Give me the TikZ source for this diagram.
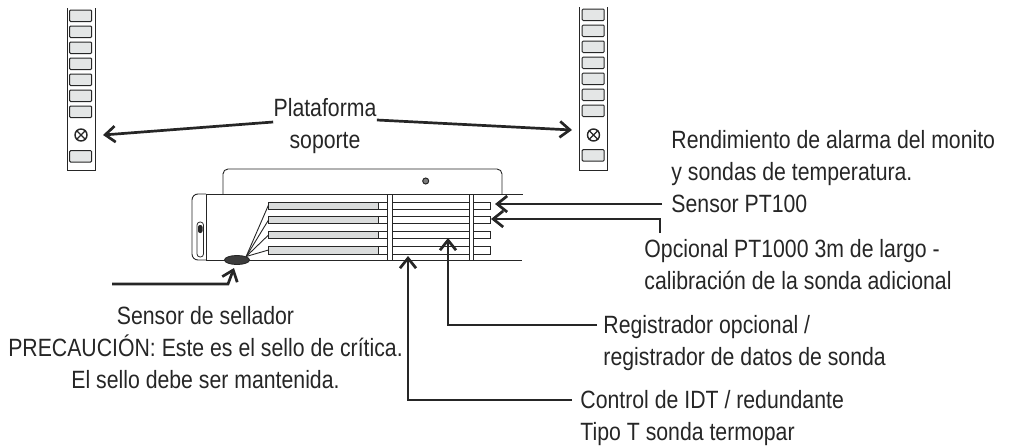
\documentclass[tikz,border=0pt]{standalone}
\usepackage{fontspec}
\setmainfont[FakeStretch=0.85]{Liberation Sans}
\usepackage{tikz}
\usetikzlibrary{arrows.meta,shapes.geometric}
\definecolor{ink}{HTML}{262626}
\definecolor{slotgray}{HTML}{E4E6E6}
\definecolor{bargray}{HTML}{DADCDC}

\begin{document}
\begin{tikzpicture}[x=1pt,y=-1pt,
        line width=0.9pt,draw=ink,
        lbl/.style={inner sep=0pt, text=ink, align=left,
                        font=\fontsize{25}{32}\selectfont},
        lead/.style={draw=ink, line width=2.7pt,
                        -{Straight Barb[length=10pt,width=16pt,line width=2.7pt]}},
        slot/.style={draw=ink, fill=slotgray, line width=1pt, rounded corners=1pt},
        screw/.style={circle, draw=ink, line width=1.4pt,
                        inner sep=0pt, minimum width=12pt},
        probe/.style={draw=ink, line width=0.9pt, fill=white}]
    \useasboundingbox (0,0) rectangle (1019,447);

    % support rails
    \foreach \rx/\ry/\nm in {67/0/screwL, 579.5/-1/screwR}{
        \draw[line width=1pt] (\rx,8+\ry) -- (\rx,170) -- (\rx+28,170) -- (\rx+28,8+\ry);
        \foreach \k in {0,...,6}
            \draw[slot] (\rx+2.7,10+\ry+16*\k) rectangle (\rx+24.7,21.5+\ry+16*\k);
        \draw[slot] (\rx+2.7,150.7+\ry) rectangle (\rx+24.7,162+\ry);
        \node[screw] (\nm) at (\rx+14,135) {};
        \draw[line width=1.2pt] (\nm.north west) -- (\nm.south east)
            (\nm.north east) -- (\nm.south west);
    }

    % chassis
    \draw (223,194) -- (223,173) [rounded corners=5pt] -- (223,169) -- (502,169) -- (502,194);
    \draw[rounded corners=6pt] (206,194) -- (192,194) -- (192,260) -- (206,260);
    \draw (206,194) -- (206,260);
    \draw (206,194) -- (523,194);
    \draw (206,260) -- (522,260);
    \draw[line width=0.8pt,rounded corners=3pt] (197,222) rectangle (203.5,257);
    \fill[ink,rounded corners=2pt] (198,225) rectangle (202.5,233);
    \node[screw, line width=1pt, minimum width=6pt, fill=ink!60] (screwC) at (425.7,181) {};

    % probes
    \foreach \py/\qy in {202/209, 216.7/223.5, 231.3/238.5, 246.5/254}{
        \draw[probe] (378,\py) rectangle (388,\qy);
        \draw[probe] (388,\py) -- (469,\py) (388,\qy) -- (469,\qy);
        \draw[probe] (473,\py) rectangle (490.5,\qy);
        \draw[fill=bargray,line width=1pt] (268.5,\py) rectangle (378,\qy);
    }
    \draw[fill=white] (387.5,194) rectangle (392,260);
    \draw[fill=white] (469.5,194) rectangle (473.5,260);

    % seal sensor and wires
    \node[ellipse, draw=ink, fill=ink!90, inner sep=0pt,
        minimum width=25pt, minimum height=9pt] (seal) at (237,260) {};
    \foreach \wy in {205,220,235,250}
        \draw (seal.north east) -- (268.5,\wy);

    % labels
    \node[lbl, align=center] (lblPlat) at (325,126) {Plataforma\\soporte};
    \node[lbl, anchor=north west] (lblRend) at (671,130) {Rendimiento de alarma del monito\\y sondas de temperatura.};
    \node[lbl, anchor=west] (lblPt) at (671,204) {Sensor PT100};
    \node[lbl, anchor=north west] (lblOpc) at (644,239) {Opcional PT1000 3m de largo -\\calibración de la sonda adicional};
    \node[lbl, anchor=north west] (lblReg) at (603,315) {Registrador opcional /\\registrador de datos de sonda};
    \node[lbl, anchor=north west] (lblCtl) at (580,390) {Control de IDT / redundante\\Tipo T sonda termopar};
    \node[lbl, align=center] (lblSeal) at (205.5,348) {Sensor de sellador\\PRECAUCIÓN: Este es el sello de crítica.\\El sello debe ser mantenida.};

    % leaders
    \coordinate (tipPlatL) at (103,135);
    \coordinate (tipPlatR) at (572,130);
    \coordinate (tipPt) at (495,204);
    \coordinate (tipOpc) at (491,219);
    \coordinate (tipReg) at (448,238);
    \coordinate (tipCtl) at (408,256);
    \coordinate (tipSeal) at (234,268);
    \coordinate (startSeal) at (112,284);
    \coordinate (startOpc) at (660,233);

    \draw[lead] ([yshift=4pt]lblPlat.west) -- (tipPlatL);
    \draw[lead] ([yshift=6pt]lblPlat.east) -- (tipPlatR);
    \draw[lead] ([xshift=-9pt]lblPt.west) -- (tipPt);
    \draw[lead] (startOpc) |- (tipOpc);
    \draw[lead] ([xshift=-6pt,yshift=-10pt]lblReg.north west) -| (tipReg);
    \draw[lead] ([xshift=-8pt,yshift=-10pt]lblCtl.north west) -| (tipCtl);
    \draw[lead] (startSeal) -- (228,284) -- (tipSeal);
\end{tikzpicture}
\end{document}
